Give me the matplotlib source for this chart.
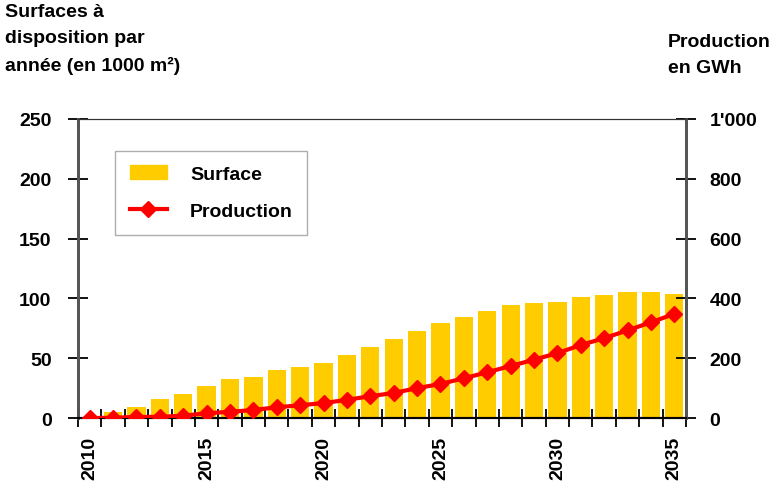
import matplotlib
matplotlib.use("Agg")
import numpy as np
import matplotlib.pyplot as plt
from matplotlib.lines import Line2D
from matplotlib.patches import Patch

YEARS = list(range(2010, 2036))
SURFACE = [0, 5, 9.5, 16, 20, 27, 33, 34.5, 40, 43, 46, 53, 59.5, 66,
           73, 79.5, 84.5, 89.5, 94.5, 96.5, 97, 101.5, 103, 105, 105, 104]
PRODUCTION = [0, 1, 4, 4, 8, 16, 21, 27, 36, 43, 50, 61, 73, 84,
              100, 114, 133, 153, 174, 195, 217, 244, 267, 293, 320, 348]
LEFT_TICKS = [0, 50, 100, 150, 200, 250]
RIGHT_TICKS = [0, 200, 400, 600, 800, 1000]
RIGHT_LABELS = ["0", "200", "400", "600", "800", "1'000"]

C_BAR, C_LINE = "#FFCC00", "#FF0000"
FS = 14

plt.rcParams["font.family"] = ["Liberation Sans", "DejaVu Sans"]
plt.rcParams["font.weight"] = "bold"

fig = plt.figure(figsize=(7.8, 4.89), dpi=100)
ax = fig.add_axes([0.1, 0.143, 0.7795, 0.612])
ax2 = ax.twinx()

x = np.arange(len(YEARS))
ax.bar(x, SURFACE, width=0.78, color=C_BAR, zorder=2)
ax2.plot(x, PRODUCTION, "-D", color=C_LINE, lw=3, ms=8.5, zorder=3)

ax.set_xlim(-0.5, len(YEARS) - 0.5)
ax.set_ylim(0, 250)
ax2.set_ylim(0, 1000)

ax.set_yticks(LEFT_TICKS)
ax.set_yticklabels([str(v) for v in LEFT_TICKS], fontsize=FS, fontweight="bold")
ax2.set_yticks(RIGHT_TICKS)
ax2.set_yticklabels(RIGHT_LABELS, fontsize=FS, fontweight="bold")

# ticks at category boundaries, labels every 5 years at centres
ax.set_xticks(np.arange(len(YEARS) + 1) - 0.5)
ax.set_xticklabels([])
ax.set_xticks([i for i, y in enumerate(YEARS) if y % 5 == 0], minor=True)
ax.set_xticklabels([str(y) for y in YEARS if y % 5 == 0], minor=True,
                   rotation=90, fontsize=FS, fontweight="bold")
ax.tick_params(axis="x", which="major", direction="inout", length=13, width=1.3)
ax.tick_params(axis="x", which="minor", length=0, pad=13)
ax.tick_params(axis="y", direction="inout", length=14, width=1.3, pad=12)
ax2.tick_params(axis="y", direction="inout", length=14, width=1.3, pad=10)

for a in (ax, ax2):
    a.spines["left"].set_color("#555555")
    a.spines["right"].set_color("#555555")
    a.spines["left"].set_linewidth(2)
    a.spines["right"].set_linewidth(2)
    a.spines["top"].set_color("#333333")
    a.spines["top"].set_linewidth(0.8)
    a.spines["bottom"].set_linewidth(1.5)

handles = [Patch(color=C_BAR),
           Line2D([], [], color=C_LINE, lw=3, marker="D", ms=8.5)]
leg = ax2.legend(handles, ["Surface", "Production"], loc="upper left",
                 bbox_to_anchor=(0.061, 0.893), borderaxespad=0,
                 fancybox=False, frameon=True,
                 prop={"size": FS, "weight": "bold"}, handlelength=1.9,
                 handletextpad=1.2, borderpad=0.75, labelspacing=1.0)
leg.get_frame().set_edgecolor("#999999")
leg.get_frame().set_linewidth(1)

fig.text(0.006, 0.992, "Surfaces à\ndisposition par\nannée (en 1000 m²)",
         ha="left", va="top", fontsize=FS, fontweight="bold", linespacing=1.7)
fig.text(0.856, 0.93, "Production\nen GWh", ha="left", va="top",
         fontsize=FS, fontweight="bold", linespacing=1.7)

fig.savefig("out.png", dpi=100)
